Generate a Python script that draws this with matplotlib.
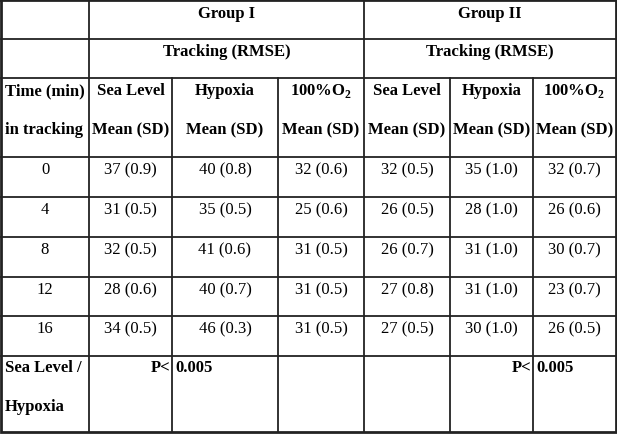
import matplotlib
matplotlib.use("Agg")
import matplotlib.pyplot as plt

plt.rcParams["font.family"] = ["Liberation Serif", "DejaVu Serif"]
plt.rcParams["mathtext.fontset"] = "custom"
plt.rcParams["mathtext.bf"] = "Liberation Serif:bold"
plt.rcParams["mathtext.rm"] = "Liberation Serif"

# table content
groups = ["Group I", "Group II"]
conditions = ["Sea Level", "Hypoxia", "100%O$_{\\mathbf{2}}$"]
times = ["0", "4", "8", "12", "16"]
group1_sea = ["37 (0.9)", "31 (0.5)", "32 (0.5)", "28 (0.6)", "34 (0.5)"]
group1_hyp = ["40 (0.8)", "35 (0.5)", "41 (0.6)", "40 (0.7)", "46 (0.3)"]
group1_o2 = ["32 (0.6)", "25 (0.6)", "31 (0.5)", "31 (0.5)", "31 (0.5)"]
group2_sea = ["32 (0.5)", "26 (0.5)", "26 (0.7)", "27 (0.8)", "27 (0.5)"]
group2_hyp = ["35 (1.0)", "28 (1.0)", "31 (1.0)", "31 (1.0)", "30 (1.0)"]
group2_o2 = ["32 (0.7)", "26 (0.6)", "30 (0.7)", "23 (0.7)", "26 (0.5)"]
p_value = "0.005"

# grid in pixels
col_x = [1, 89, 172, 278, 364, 450, 533, 616]
row_y = [1, 40, 79, 158, 198, 238, 278, 317, 357, 433]

W, H = 617, 435
fig = plt.figure(figsize=(W / 100, H / 100), dpi=100)
ax = fig.add_axes([0, 0, 1, 1])
ax.set_xlim(0, W)
ax.set_ylim(H, 0)
ax.axis("off")

line_color = "#222222"
lw = 1.3

# outer border
ax.plot([col_x[0], col_x[-1], col_x[-1], col_x[0], col_x[0]],
        [row_y[0], row_y[0], row_y[-1], row_y[-1], row_y[0]],
        color=line_color, lw=2.0, solid_joinstyle="miter")
for y in row_y[1:-1]:
    ax.plot([col_x[0], col_x[-1]], [y, y], color=line_color, lw=lw)
# column 0 and the group split run the full height
for x in [col_x[1], col_x[4]]:
    ax.plot([x, x], [row_y[0], row_y[-1]], color=line_color, lw=lw)
for x in [col_x[2], col_x[3], col_x[5], col_x[6]]:
    ax.plot([x, x], [row_y[2], row_y[-1]], color=line_color, lw=lw)

fs = 12
bold = dict(fontsize=fs, fontweight="bold", color="black")
normal = dict(fontsize=fs, color="black")


def cx(i):
    return (col_x[i] + col_x[i + 1]) / 2


# group headers
for g, name in enumerate(groups):
    left = col_x[1 + 3 * g]
    right = col_x[4 + 3 * g]
    ax.text((left + right) / 2, row_y[0] + 13, name, ha="center", va="center", **bold)
    ax.text((left + right) / 2, row_y[1] + 12, "Tracking (RMSE)", ha="center", va="center", **bold)

# column headers
ax.text(col_x[0] + 4, row_y[2] + 12, "Time (min)", ha="left", va="center", **bold)
ax.text(col_x[0] + 4, row_y[2] + 51, "in tracking", ha="left", va="center", **bold)
for g in range(2):
    for k, cond in enumerate(conditions):
        i = 1 + 3 * g + k
        ax.text(cx(i), row_y[2] + 12, cond, ha="center", va="center", **bold)
        ax.text(cx(i), row_y[2] + 51, "Mean (SD)", ha="center", va="center", **bold)

# body
columns = [times, group1_sea, group1_hyp, group1_o2, group2_sea, group2_hyp, group2_o2]
for r in range(len(times)):
    for c, col in enumerate(columns):
        ax.text(cx(c), row_y[3 + r] + 12, col[r], ha="center", va="center", **normal)

# last row
last = row_y[8]
ax.text(col_x[0] + 4, last + 11, "Sea Level /", ha="left", va="center", **bold)
ax.text(col_x[0] + 4, last + 50, "Hypoxia", ha="left", va="center", **bold)
for split in [2, 6]:
    ax.text(col_x[split] - 2, last + 11, "P<", ha="right", va="center", **bold)
    ax.text(col_x[split] + 3, last + 11, p_value, ha="left", va="center", **bold)

fig.savefig("out.png", dpi=100)
